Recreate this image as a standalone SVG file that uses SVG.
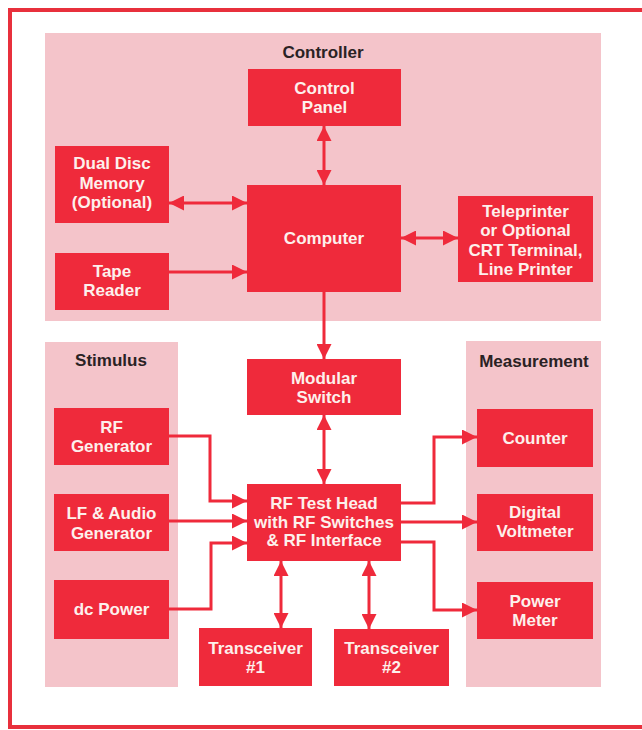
<svg xmlns="http://www.w3.org/2000/svg" width="642" height="730" viewBox="0 0 642 730">
<style>
.panel{fill:#f4c4ca}
.box{fill:#ef2a3b}
.t{font-family:"Liberation Sans",Arial,sans-serif;font-weight:bold;font-size:17px;fill:#fdf0ec;text-anchor:middle}
.lbl{font-family:"Liberation Sans",Arial,sans-serif;font-weight:bold;font-size:17px;fill:#2a2224;text-anchor:middle}
.c{fill:none;stroke:#ef2a3b;stroke-width:3}
</style>
<defs>
<marker id="ah" viewBox="0 0 10 10" refX="10" refY="5" markerWidth="15" markerHeight="15" markerUnits="userSpaceOnUse" orient="auto-start-reverse">
<path d="M0,0 L10,5 L0,10 z" fill="#ef2a3b"/>
</marker>
</defs>
<rect width="642" height="730" fill="#ffffff"/>
<path d="M642,10 H10 V727 H642" fill="none" stroke="#e8303c" stroke-width="4"/>

<g id="panels">
<rect class="panel" x="45" y="33" width="556" height="288"/>
<rect class="panel" x="45" y="342" width="133" height="345"/>
<rect class="panel" x="466" y="341" width="135" height="346"/>
<text class="lbl" x="323" y="58">Controller</text>
<text class="lbl" x="111" y="366">Stimulus</text>
<text class="lbl" x="534" y="367">Measurement</text>
</g>

<g id="connectors">
<line class="c" x1="324" y1="126" x2="324" y2="185" marker-start="url(#ah)" marker-end="url(#ah)"/>
<line class="c" x1="169" y1="203" x2="247" y2="203" marker-start="url(#ah)" marker-end="url(#ah)"/>
<line class="c" x1="169" y1="272" x2="247" y2="272" marker-end="url(#ah)"/>
<line class="c" x1="401" y1="238" x2="458" y2="238" marker-start="url(#ah)" marker-end="url(#ah)"/>
<line class="c" x1="324" y1="292" x2="324" y2="359" marker-end="url(#ah)"/>
<line class="c" x1="324" y1="415" x2="324" y2="484" marker-start="url(#ah)" marker-end="url(#ah)"/>
<polyline class="c" points="169,436 210,436 210,501 247,501" marker-end="url(#ah)"/>
<line class="c" x1="169" y1="521" x2="247" y2="521" marker-end="url(#ah)"/>
<polyline class="c" points="169,609 211,609 211,543 247,543" marker-end="url(#ah)"/>
<polyline class="c" points="401,503 434,503 434,437 477,437" marker-end="url(#ah)"/>
<line class="c" x1="401" y1="522" x2="477" y2="522" marker-end="url(#ah)"/>
<polyline class="c" points="401,542 434,542 434,610 477,610" marker-end="url(#ah)"/>
<line class="c" x1="281" y1="561" x2="281" y2="628" marker-start="url(#ah)" marker-end="url(#ah)"/>
<line class="c" x1="369" y1="561" x2="369" y2="629" marker-start="url(#ah)" marker-end="url(#ah)"/>
</g>

<g id="control-panel">
<rect class="box" x="248" y="69" width="153" height="57"/>
<text class="t" x="324.5" y="94">Control</text>
<text class="t" x="324.5" y="113">Panel</text>
</g>
<g id="dual-disc">
<rect class="box" x="55" y="146" width="114" height="77"/>
<text class="t" x="112" y="169">Dual Disc</text>
<text class="t" x="112" y="189">Memory</text>
<text class="t" x="112" y="208">(Optional)</text>
</g>
<g id="tape-reader">
<rect class="box" x="55" y="253" width="114" height="57"/>
<text class="t" x="112" y="277">Tape</text>
<text class="t" x="112" y="296">Reader</text>
</g>
<g id="computer">
<rect class="box" x="247" y="185" width="154" height="107"/>
<text class="t" x="324" y="244">Computer</text>
</g>
<g id="teleprinter">
<rect class="box" x="458" y="196" width="135" height="86"/>
<text class="t" x="525.5" y="217">Teleprinter</text>
<text class="t" x="525.5" y="236">or Optional</text>
<text class="t" x="525.5" y="256">CRT Terminal,</text>
<text class="t" x="525.5" y="275">Line Printer</text>
</g>
<g id="modular-switch">
<rect class="box" x="247" y="359" width="154" height="56"/>
<text class="t" x="324" y="384">Modular</text>
<text class="t" x="324" y="403">Switch</text>
</g>
<g id="rf-test-head">
<rect class="box" x="247" y="484" width="154" height="77"/>
<text class="t" x="324" y="509">RF Test Head</text>
<text class="t" x="324" y="528">with RF Switches</text>
<text class="t" x="324" y="546">&amp; RF Interface</text>
</g>
<g id="rf-generator">
<rect class="box" x="54" y="408" width="115" height="57"/>
<text class="t" x="111.5" y="433">RF</text>
<text class="t" x="111.5" y="452">Generator</text>
</g>
<g id="lf-audio">
<rect class="box" x="54" y="494" width="115" height="57"/>
<text class="t" x="111.5" y="519">LF &amp; Audio</text>
<text class="t" x="111.5" y="539">Generator</text>
</g>
<g id="dc-power">
<rect class="box" x="54" y="580" width="115" height="59"/>
<text class="t" x="111.5" y="615">dc Power</text>
</g>
<g id="counter">
<rect class="box" x="477" y="409" width="116" height="58"/>
<text class="t" x="535" y="444">Counter</text>
</g>
<g id="dvm">
<rect class="box" x="477" y="494" width="116" height="57"/>
<text class="t" x="535" y="518">Digital</text>
<text class="t" x="535" y="537">Voltmeter</text>
</g>
<g id="power-meter">
<rect class="box" x="477" y="582" width="116" height="57"/>
<text class="t" x="535" y="607">Power</text>
<text class="t" x="535" y="626">Meter</text>
</g>
<g id="transceiver-1">
<rect class="box" x="199" y="628" width="113" height="58"/>
<text class="t" x="255.5" y="654">Transceiver</text>
<text class="t" x="255.5" y="673">#1</text>
</g>
<g id="transceiver-2">
<rect class="box" x="334" y="629" width="115" height="57"/>
<text class="t" x="391.5" y="654">Transceiver</text>
<text class="t" x="391.5" y="673">#2</text>
</g>
</svg>
